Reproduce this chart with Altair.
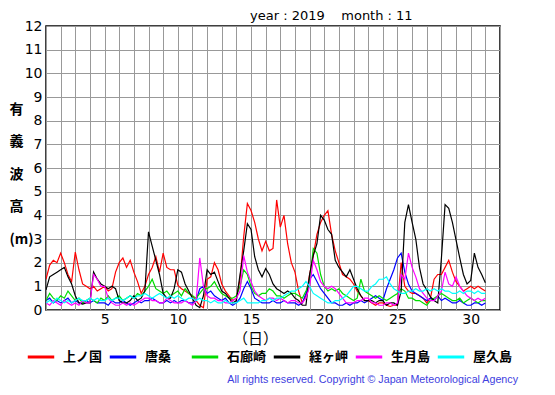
import altair as alt
import pandas as pd

stations = ["上ノ国", "唐桑", "石廊崎", "経ヶ岬", "生月島", "屋久島"]
colors = ["#ff0000", "#0000ff", "#00dd00", "#000000", "#ff00ff", "#00ffff"]

# samples every 6 hours, day 1.00 .. 31.00
red = [1.3, 1.9, 2.1, 2.0, 2.4, 2.0, 1.5, 1.2, 2.45, 1.7, 1.1, 1.0, 0.9, 1.0, 0.8, 0.9,
       1.0, 0.8, 0.9, 1.6, 2.0, 2.2, 1.8, 2.1, 1.6, 1.2, 0.7, 1.0, 1.5, 1.8, 2.25, 1.6,
       2.4, 1.8, 1.7, 1.7, 1.05, 0.9, 0.8, 0.7, 0.6, 0.4, 0.2, 0.1, 1.3, 1.4, 2.0, 1.7,
       1.1, 0.8, 0.6, 0.4, 0.5, 1.3, 3.1, 4.5, 4.2, 3.7, 3.0, 2.5, 2.9, 2.5, 2.6, 4.65,
       3.5, 4.0, 2.8, 2.0, 1.6, 0.8, 0.3, 0.6, 1.5, 2.3, 3.2, 3.7, 4.0, 4.2, 3.2, 2.5,
       2.0, 1.5, 1.4, 1.3, 1.1, 0.8, 0.6, 0.4, 0.4, 0.3, 0.2, 0.3, 0.3, 0.2, 0.15, 0.2,
       0.2, 2.0, 1.0, 0.8, 0.7, 0.7, 0.6, 0.5, 0.3, 0.5, 1.3, 1.5, 1.5, 1.8, 2.1, 1.6,
       1.2, 1.0, 0.8, 0.9, 1.0, 0.9, 1.0, 0.9, 0.8]
blue = [0.4, 0.5, 0.3, 0.4, 0.3, 0.4, 0.5, 0.3, 0.4, 0.3, 0.3, 0.4, 0.3, 0.4, 0.3, 0.3,
        0.3, 0.2, 0.4, 0.3, 0.3, 0.4, 0.3, 0.2, 0.3, 0.4, 0.3, 0.4, 0.4, 0.5, 0.4, 0.3,
        0.3, 0.4, 0.3, 0.4, 0.3, 0.4, 0.4, 0.3, 0.3, 0.4, 0.9, 1.0, 0.7, 0.8, 0.6, 0.5,
        0.4, 0.5, 0.3, 0.2, 0.3, 0.5, 0.9, 1.2, 0.9, 0.5, 0.4, 0.3, 0.3, 0.3, 0.4, 0.3,
        0.3, 0.4, 0.3, 0.3, 0.3, 0.2, 0.3, 0.7, 1.3, 1.5, 1.2, 0.9, 0.7, 0.5, 0.3, 0.3,
        0.2, 0.2, 0.3, 0.2, 0.3, 0.3, 0.4, 0.3, 0.4, 0.5, 0.6, 0.5, 0.4, 0.9, 1.3, 1.7,
        2.2, 2.4, 1.6, 1.1, 0.8, 0.7, 0.6, 0.5, 0.4, 0.5, 0.4, 0.6, 0.4, 0.5, 0.4, 0.3,
        0.3, 0.4, 0.3, 0.2, 0.2, 0.3, 0.3, 0.2, 0.3]
green = [0.4, 0.7, 0.5, 0.4, 0.6, 0.5, 0.8, 0.6, 0.4, 0.5, 0.3, 0.4, 0.5, 0.4, 0.3, 0.5,
         0.4, 0.6, 0.4, 0.5, 0.6, 0.4, 0.5, 0.6, 0.5, 0.7, 0.6, 0.8, 1.0, 1.3, 0.9, 0.8,
         0.7, 0.8, 0.6, 0.7, 0.8, 0.6, 0.9, 0.7, 0.6, 0.5, 0.7, 0.9, 0.9, 1.0, 1.2, 0.9,
         0.7, 0.6, 0.5, 0.5, 0.6, 1.0, 1.7, 1.5, 1.0, 0.7, 0.6, 0.7, 0.7, 0.9, 0.8, 0.6,
         0.6, 0.5, 0.6, 0.7, 0.7, 0.6, 0.5, 0.8, 1.2, 2.6, 2.4, 1.5, 1.0, 0.8, 0.9, 0.8,
         0.9, 0.7, 0.6, 0.5, 0.4, 0.5, 1.3, 0.8, 0.7, 0.6, 0.5, 0.6, 0.5, 0.4, 0.5, 0.6,
         0.7, 0.9, 0.8, 0.5, 0.5, 0.4, 0.4, 0.3, 0.2, 0.4, 0.5, 0.6, 0.7, 0.6, 0.5, 0.4,
         0.4, 0.5, 0.3, 0.4, 0.5, 0.4, 0.3, 0.4, 0.4]
black = [0.85, 1.4, 1.5, 1.6, 1.7, 1.8, 1.4, 1.1, 0.6, 0.3, 0.25, 0.3, 0.3, 1.6, 1.3, 1.1,
         1.0, 0.9, 1.0, 0.9, 0.4, 0.3, 0.3, 0.4, 0.6, 0.4, 0.5, 0.8, 3.3, 2.7, 2.1, 1.5,
         0.7, 0.5, 0.5, 0.9, 1.7, 1.6, 1.1, 0.8, 0.5, 0.2, 0.1, 0.6, 1.7, 1.5, 1.6, 1.2,
         0.8, 0.7, 0.5, 0.3, 0.4, 1.5, 2.5, 3.65, 3.4, 2.25, 1.7, 1.4, 1.75, 1.5, 1.1, 0.9,
         0.8, 0.7, 0.8, 0.7, 0.5, 0.4, 0.2, 0.2, 1.5, 2.3, 2.8, 4.0, 3.8, 3.4, 3.2, 2.1,
         1.8, 1.6, 1.4, 1.7, 1.3, 0.9, 0.6, 0.4, 0.4, 0.4, 0.3, 0.4, 0.4, 0.2, 0.3, 0.3,
         0.2, 0.8, 3.7, 4.45, 3.7, 3.0, 1.8, 1.1, 0.85, 0.55, 0.4, 0.3, 2.2, 4.45, 4.3, 3.7,
         2.95, 2.2, 1.5, 1.1, 1.25, 2.4, 1.8, 1.5, 1.15]
magenta = [0.3, 0.2, 0.4, 0.3, 0.2, 0.4, 0.3, 0.2, 0.3, 0.2, 0.4, 0.3, 0.3, 1.5, 1.3, 1.0,
           1.0, 0.5, 0.3, 0.2, 0.2, 0.3, 0.2, 0.3, 0.2, 0.3, 0.4, 0.5, 0.5, 0.4, 0.4, 0.3,
           0.3, 0.5, 0.4, 0.3, 0.3, 0.3, 0.4, 0.3, 0.2, 0.4, 2.2, 1.0, 0.6, 0.5, 0.5, 0.4,
           0.4, 0.3, 0.3, 0.4, 0.5, 0.8, 2.3, 1.6, 1.2, 0.8, 0.6, 0.5, 0.4, 0.5, 0.5, 0.4,
           0.5, 0.4, 0.3, 0.4, 0.4, 0.3, 0.3, 0.5, 1.0, 2.1, 1.7, 1.2, 1.0, 0.9, 1.0, 0.9,
           0.7, 0.5, 0.3, 0.3, 0.3, 0.4, 0.4, 0.5, 0.5, 0.3, 0.3, 0.2, 0.2, 0.3, 0.3, 0.2,
           0.3, 1.5, 1.3, 2.4, 1.8, 1.4, 0.9, 0.7, 0.5, 0.4, 0.4, 0.6, 0.8, 1.6, 1.1, 1.0,
           1.4, 1.0, 0.8, 0.6, 0.5, 0.4, 0.5, 0.4, 0.5]
cyan = [0.3, 0.4, 0.3, 0.5, 0.4, 0.3, 0.4, 0.3, 0.4, 0.5, 0.4, 0.4, 0.5, 0.4, 0.5, 0.4,
        0.4, 0.5, 0.4, 0.5, 0.5, 0.4, 0.5, 0.6, 0.5, 0.6, 0.6, 0.7, 0.6, 0.5, 0.6, 0.7,
        0.6, 0.5, 0.6, 0.5, 0.6, 0.5, 0.4, 0.5, 0.5, 0.4, 0.5, 0.4, 0.4, 0.3, 0.4, 0.3,
        0.3, 0.4, 0.3, 0.3, 0.3, 0.4, 0.5, 0.3, 0.3, 0.3, 0.3, 0.4, 0.4, 0.5, 0.4, 0.5,
        0.5, 0.6, 0.7, 0.8, 0.8, 0.9, 1.0, 1.2, 1.0, 0.7, 0.6, 0.5, 0.4, 0.3, 0.3, 0.4,
        0.4, 0.5, 0.6, 0.8, 1.0, 1.0, 0.9, 0.8, 0.8, 1.0, 1.1, 1.3, 1.3, 1.4, 1.1, 0.9,
        0.8, 0.7, 0.7, 0.8, 0.8, 0.9, 0.8, 0.8, 0.9, 0.8, 0.9, 0.8, 0.9, 0.8, 0.8, 0.7,
        0.7, 0.8, 0.7, 0.8, 0.8, 0.7, 0.8, 0.7, 0.7]

series = [red, blue, green, black, magenta, cyan]
step = 0.25
first_day = 1.0

title_text = "year : 2019" + "\u00a0" * 4 + "month : 11"
footer_text = "All rights reserved. Copyright \u00a9 Japan Meteorological Agency"
y_title = ["有", "義", "波", "高", "(m)"]
x_title = "（日）"

rows = []
for name, vals in zip(stations, series):
    for i, v in enumerate(vals):
        rows.append({"day": first_day + i * step, "height": v, "station": name})
df = pd.DataFrame(rows)

lines = alt.Chart(df).mark_line(strokeWidth=1.2, clip=True).encode(
    x=alt.X("day:Q",
            scale=alt.Scale(domain=[1, 32], nice=False, zero=False),
            axis=alt.Axis(values=list(range(1, 33)),
                          labelExpr="datum.value % 5 == 0 && datum.value < 32 ? datum.label : ''",
                          grid=True, ticks=False, domain=False, labelPadding=2,
                          labelFontSize=14, labelFont="DejaVu Sans", labelColor="black",
                          title=x_title, titleFont="Noto Sans CJK JP", titleFontSize=15,
                          titleFontWeight="normal", titleX=209, titleY=28,
                          titleBaseline="middle", titleAlign="center")),
    y=alt.Y("height:Q",
            scale=alt.Scale(domain=[0, 12], nice=False),
            axis=alt.Axis(values=list(range(0, 13)), grid=True, ticks=False, domain=False,
                          labelPadding=4, labelFontSize=14, labelFont="DejaVu Sans",
                          labelColor="black",
                          title=y_title, titleAngle=0, titleFont="Noto Sans CJK JP",
                          titleFontSize=14, titleFontWeight="bold", titleLineHeight=32.5,
                          titleX=-37, titleY=76, titleBaseline="top", titleAlign="left")),
    color=alt.Color("station:N",
                    scale=alt.Scale(domain=stations, range=colors),
                    sort=stations,
                    legend=alt.Legend(title=None, orient="none", legendX=-20, legendY=316,
                                      direction="horizontal", columns=6, gridAlign="all",
                                      symbolType="stroke", symbolSize=700,
                                      symbolStrokeWidth=3, labelOffset=7,
                                      columnPadding=0, labelFont="Noto Sans CJK JP",
                                      labelFontSize=13, labelFontWeight="bold",
                                      labelColor="black")),
)

title_layer = alt.Chart(pd.DataFrame({"t": [title_text]})).mark_text(
    align="left", baseline="middle", fontSize=13, font="DejaVu Sans", color="black"
).encode(text="t:N", x=alt.value(204), y=alt.value(-10))

footer_layer = alt.Chart(pd.DataFrame({"t": [footer_text]})).mark_text(
    align="right", baseline="middle", fontSize=10.7, font="Liberation Sans", color="#4040e0"
).encode(text="t:N", x=alt.value(472), y=alt.value(354))

chart = alt.layer(lines, title_layer, footer_layer).properties(
    width=454, height=284,
    autosize=alt.AutoSizeParams(type="none"),
    padding={"left": 38, "top": 18, "right": 47, "bottom": 77},
).configure_view(
    stroke="black", strokeWidth=1.5
).configure_axis(
    gridColor="#999999", gridWidth=1, gridOpacity=1
)

chart.save("out.html", embed_options={"renderer": "svg", "actions": False})
